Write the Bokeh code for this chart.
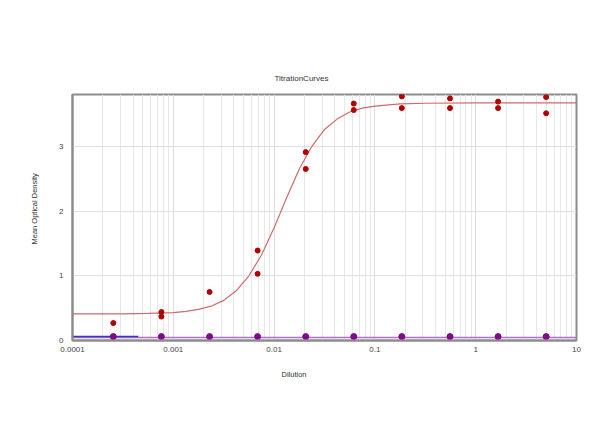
from bokeh.plotting import figure
from bokeh.models import FixedTicker, CustomJSTickFormatter, Title
from bokeh.embed import file_html
from bokeh.resources import INLINE

# ---- data ----
red_dilution = [0.000254, 0.000762, 0.000762, 0.00229, 0.00686, 0.00686, 0.0206, 0.0206,
                0.0617, 0.0617, 0.185, 0.185, 0.556, 0.556, 1.667, 1.667, 5.0, 5.0]
red_od = [0.27, 0.44, 0.37, 0.75, 1.39, 1.03, 2.91, 2.65,
          3.66, 3.56, 3.77, 3.59, 3.74, 3.59, 3.69, 3.59, 3.76, 3.51]

neg_dilution = [0.000254, 0.000762, 0.00229, 0.00686, 0.0206, 0.0617, 0.185, 0.556, 1.667, 5.0]
neg_od = [0.06, 0.06, 0.06, 0.06, 0.06, 0.06, 0.06, 0.06, 0.06, 0.06]

fit_dilution = [0.0001, 0.000316, 0.000562, 0.001, 0.001334, 0.001778, 0.002371, 0.003162,
                0.004217, 0.005623, 0.007499, 0.01, 0.01334, 0.01778, 0.02371, 0.03162,
                0.04217, 0.05623, 0.07499, 0.1, 0.1778, 0.3162, 1.0, 10.0]
fit_od = [0.41, 0.411, 0.418, 0.43, 0.45, 0.48, 0.53, 0.62,
          0.77, 1.00, 1.32, 1.74, 2.21, 2.65, 3.00, 3.26,
          3.42, 3.53, 3.59, 3.62, 3.655, 3.665, 3.67, 3.67]

neg_fit_dilution = [0.0001, 10.0]
neg_fit_od = [0.045, 0.045]

blue_fit_dilution = [0.0001, 0.00045]
blue_fit_od = [0.06, 0.06]

x_major = [0.0001, 0.001, 0.01, 0.1, 1, 10]
x_minor = [m * d for d in [0.0001, 0.001, 0.01, 0.1, 1] for m in range(2, 10)]
y_major = [0, 1, 2, 3]

FONT = "Liberation Sans"

p = figure(width=592, height=439, x_axis_type="log", x_range=(0.0001, 10), y_range=(0, 3.8),
           output_backend="svg", toolbar_location=None,
           min_border_left=72, min_border_right=16, min_border_top=94, min_border_bottom=99)

p.background_fill_color = "white"
p.border_fill_color = "white"
p.outline_line_color = "#8c8c8c"
p.outline_line_width = 2

# title
p.title.text = "TitrationCurves"
p.title.align = "left"
p.title.offset = 202
p.title.text_font = FONT
p.title.text_font_size = "8px"
p.title.text_font_style = "normal"
p.title.text_color = "#333333"
p.title.standoff = 24

# grids
p.xgrid.ticker = FixedTicker(ticks=x_major, minor_ticks=x_minor)
p.xgrid.grid_line_color = "#dcdcdc"
p.xgrid.minor_grid_line_color = "#e8e8e8"
p.ygrid.ticker = FixedTicker(ticks=[1, 2, 3])
p.ygrid.grid_line_color = "#e0e0e0"

# axes
p.xaxis.ticker = FixedTicker(ticks=x_major)
p.xaxis.formatter = CustomJSTickFormatter(code="return tick.toString();")
p.yaxis.ticker = FixedTicker(ticks=y_major)
for ax in (p.xaxis[0], p.yaxis[0]):
    ax.axis_line_color = "#8c8c8c"
    ax.axis_line_width = 2
    ax.major_tick_line_color = None
    ax.minor_tick_line_color = None
    ax.major_label_text_font = FONT
    ax.major_label_text_font_size = "8px"
    ax.major_label_text_color = "#444444"
p.xaxis.major_label_standoff = 0
p.yaxis.major_label_standoff = 3

xlab = Title(text="Dilution", align="left", offset=209, text_font=FONT,
             text_font_size="7.5px", text_font_style="normal", text_color="#333333", standoff=27)
p.add_layout(xlab, "below")
ylab = Title(text="Mean Optical Density", align="left", offset=96, text_font=FONT,
             text_font_size="7.5px", text_font_style="normal", text_color="#333333", standoff=35)
p.add_layout(ylab, "left")

# series
p.line(fit_dilution, fit_od, line_color="#cf6a6a", line_width=1.2)
p.line(neg_fit_dilution, neg_fit_od, line_color="#b070c8", line_width=1.5)
p.line(blue_fit_dilution, blue_fit_od, line_color="#3636c8", line_width=1.5)
p.scatter(red_dilution, red_od, size=5, fill_color="#b00000", line_color="#b00000")
p.scatter(neg_dilution, neg_od, size=6, fill_color="#7d0a8c", line_color="#7d0a8c")

open("out.html", "w").write(file_html(p, INLINE))
